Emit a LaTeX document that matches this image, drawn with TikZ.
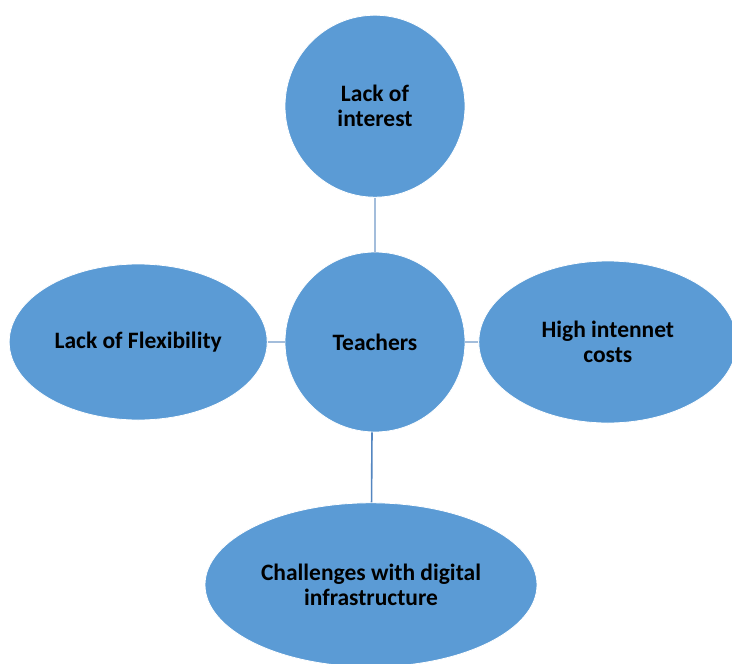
\documentclass[tikz,border=0pt]{standalone}
\usepackage{fontspec}
\setmainfont{Carlito}
\usetikzlibrary{shapes.geometric,positioning}
\definecolor{bubblefill}{HTML}{5B9BD5}
\definecolor{linklight}{HTML}{A3BDDB}
\definecolor{linkdark}{HTML}{5486C0}
\tikzset{
    x=1pt,y=1pt,
    bubble/.style ={ellipse, draw=white, line width=0.8pt, fill=bubblefill, inner sep=0pt,
        align=center, font=\fontsize{23.5}{25}\selectfont\bfseries},
    link/.style = {linklight, line width=2pt},
    darklink/.style = {linkdark, line width=1.6pt}
}
\begin{document}
\begin{tikzpicture}
	\useasboundingbox (0,0) rectangle (732,-664);
	\node[bubble, minimum width=180pt, minimum height=180pt] (teach) at (375,-342) {Teachers};
	\node[bubble, minimum width=180pt, minimum height=182pt, above = 54pt of teach] (interest) {Lack of\\interest};
	\node[bubble, minimum width=258pt, minimum height=156pt, left = 17pt of teach] (flex) {Lack of Flexibility};
	\node[bubble, minimum width=258pt, minimum height=162pt, right = 13pt of teach] (cost) {High intennet\\costs};
	\node[bubble, minimum width=332pt, minimum height=164pt, below = 70pt of teach, xshift=-4pt] (infra) {Challenges with digital\\infrastructure};

	\draw[link] (teach.north) ++(0,-1) -- (interest);
	\draw[link] (teach) -- (flex);
	\draw[link] (teach) -- (cost);
	\draw[darklink] ([xshift=-3pt]teach.south) -- (infra);
\end{tikzpicture}
\end{document}
